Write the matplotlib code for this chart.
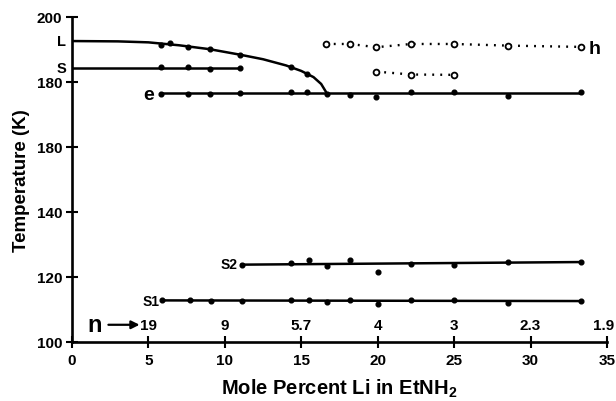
import matplotlib
matplotlib.use('Agg')
import matplotlib.pyplot as plt
import matplotlib.transforms as mtransforms

plt.rcParams['font.family'] = ['Liberation Sans', 'DejaVu Sans']
plt.rcParams['font.weight'] = 'bold'
plt.rcParams['mathtext.fontset'] = 'custom'
plt.rcParams['mathtext.bf'] = 'Liberation Sans:bold'
plt.rcParams['mathtext.rm'] = 'Liberation Sans:bold'

# ---- data ----
# liquidus curve L (hand-drawn line) and its measured points
L_curve_x = [0, 3, 5, 7, 9, 11, 12.5, 14, 15, 15.8, 16.3, 16.7]
L_curve_T = [192.6, 192.5, 192.2, 191.3, 190.1, 188.4, 187.0, 185.1, 183.4, 181.5, 179.4, 176.3]
L_pts_x = [5.8, 6.4, 7.6, 9.0, 11.0, 14.3, 15.4]
L_pts_T = [191.5, 192.0, 190.8, 190.2, 188.3, 184.5, 182.6]

# solidus S
S_line_x = [0, 11.0]
S_line_T = [184.4, 184.4]
S_pts_x = [5.8, 7.6, 9.0, 11.0]
S_pts_T = [184.5, 184.5, 184.0, 184.3]

# eutectic e
e_x = [5.8, 7.6, 9.0, 11.0, 14.3, 15.4, 16.7, 18.2, 19.9, 22.2, 25.0, 28.5, 33.3]
e_T = [176.4, 176.4, 176.2, 176.6, 176.8, 176.8, 176.3, 176.0, 175.5, 177.0, 177.0, 175.6, 176.8]

# open-circle series h and the short one below it
h_x = [16.6, 18.2, 19.9, 22.2, 25.0, 28.5, 33.3]
h_T = [191.7, 191.7, 190.7, 191.7, 191.7, 191.2, 190.8]
h2_x = [19.9, 22.2, 25.0]
h2_T = [183.2, 182.3, 182.2]

# S2 transition
S2_x = [11.1, 14.3, 15.5, 16.7, 18.2, 22.2, 25.0, 28.5, 33.3]
S2_T = [123.7, 124.4, 125.3, 123.4, 125.3, 124.1, 123.8, 124.5, 124.7]
S2_line_x = [11.1, 33.3]
S2_line_T = [123.8, 124.6]
S2_out_x = [20.0]
S2_out_T = [121.6]

# S1 transition
S1_x = [5.9, 7.7, 9.1, 11.1, 14.3, 15.5, 16.7, 18.2, 20.0, 22.2, 25.0, 28.5, 33.3]
S1_T = [112.9, 112.8, 112.7, 112.7, 112.9, 112.8, 112.3, 112.8, 111.6, 112.9, 112.8, 112.0, 112.5]

# n = solvent/Li ratio along the bottom
n_x = [5, 10, 15, 20, 25, 30, 35]
n_labels = ['19', '9', '5.7', '4', '3', '2.3', '1.9']

y_ticks = [100, 120, 140, 160, 180, 200]
y_ticklabels = ['100', '120', '140', '180', '180', '200']
x_ticks = [0, 5, 10, 15, 20, 25, 30, 35]

# ---- figure ----
fig = plt.figure(figsize=(6.16, 4.02), dpi=100)
ax = fig.add_axes([72 / 616, 1 - 343 / 402, (607 - 72) / 616, (343 - 18) / 402])

lw = 1.8
dot = dict(marker='o', ms=3.4, color='black')

ax.plot(L_curve_x, L_curve_T, color='black', lw=lw)
ax.plot(L_pts_x, L_pts_T, ls='none', **dot)
ax.plot(S_line_x, S_line_T, color='black', lw=lw)
ax.plot(S_pts_x, S_pts_T, ls='none', **dot)
ax.plot([e_x[0], e_x[-1]], [176.5, 176.5], color='black', lw=lw)
ax.plot(e_x, e_T, ls='none', **dot)

open_c = dict(marker='o', ms=4.2, mfc='white', mec='black', mew=1.3, color='black')
ax.plot(h_x, h_T, ls=(0, (0.8, 2.6)), lw=1.7, **open_c)
ax.plot(h2_x, h2_T, ls=(0, (0.8, 2.6)), lw=1.7, **open_c)

ax.plot(S2_line_x, S2_line_T, color='black', lw=lw)
ax.plot(S2_x, S2_T, ls='none', **dot)
ax.plot(S2_out_x, S2_out_T, ls='none', **dot)
ax.plot([S1_x[0], S1_x[-1]], [112.8, 112.6], color='black', lw=lw)
ax.plot(S1_x, S1_T, ls='none', **dot)

# curve labels
ax.text(-0.4, 192.5, 'L', ha='right', va='center', fontsize=10.5, clip_on=False)
ax.text(-0.4, 184.3, 'S', ha='right', va='center', fontsize=10.5, clip_on=False)
ax.text(5.35, 176.0, 'e', ha='right', va='center', fontsize=14)
ax.text(33.8, 190.3, 'h', ha='left', va='center', fontsize=14, clip_on=False)
ax.text(10.85, 123.9, 'S2', ha='right', va='center', fontsize=10)
ax.text(5.7, 112.7, 'S1', ha='right', va='center', fontsize=10)

# n row
ax.text(1.5, 105.3, 'n', ha='center', va='center', fontsize=17)
ax.annotate('', xy=(4.6, 105.3), xytext=(2.2, 105.3),
            arrowprops=dict(arrowstyle='-|>', color='black', lw=1.6, mutation_scale=12))
for xv, lab in zip(n_x[:-1], n_labels[:-1]):
    ax.text(xv, 105.3, lab, ha='center', va='center', fontsize=11)
# last one sits at the right edge of the figure
shift = mtransforms.offset_copy(ax.transData, fig=fig, x=7, y=0, units='dots')
ax.text(n_x[-1], 105.3, n_labels[-1], ha='right', va='center', fontsize=11,
        transform=shift, clip_on=False)

ax.set_xlim(0, 35)
ax.set_ylim(100, 200)
ax.set_xticks(x_ticks)
ax.set_yticks(y_ticks)
ax.set_yticklabels(y_ticklabels)
ax.tick_params(direction='inout', length=8, width=1.5, labelsize=11, pad=3)
ax.tick_params(axis='x', pad=4)
for side in ['top', 'right']:
    ax.spines[side].set_visible(False)
for side in ['left', 'bottom']:
    ax.spines[side].set_linewidth(1.9)

ax.set_xlabel(r'Mole Percent Li in EtNH$_{\mathbf{2}}$', fontsize=14.5, fontweight='bold', labelpad=7)
ax.set_ylabel('Temperature (K)', fontsize=13.5, fontweight='bold', labelpad=5)

fig.savefig('out.png', dpi=100)
